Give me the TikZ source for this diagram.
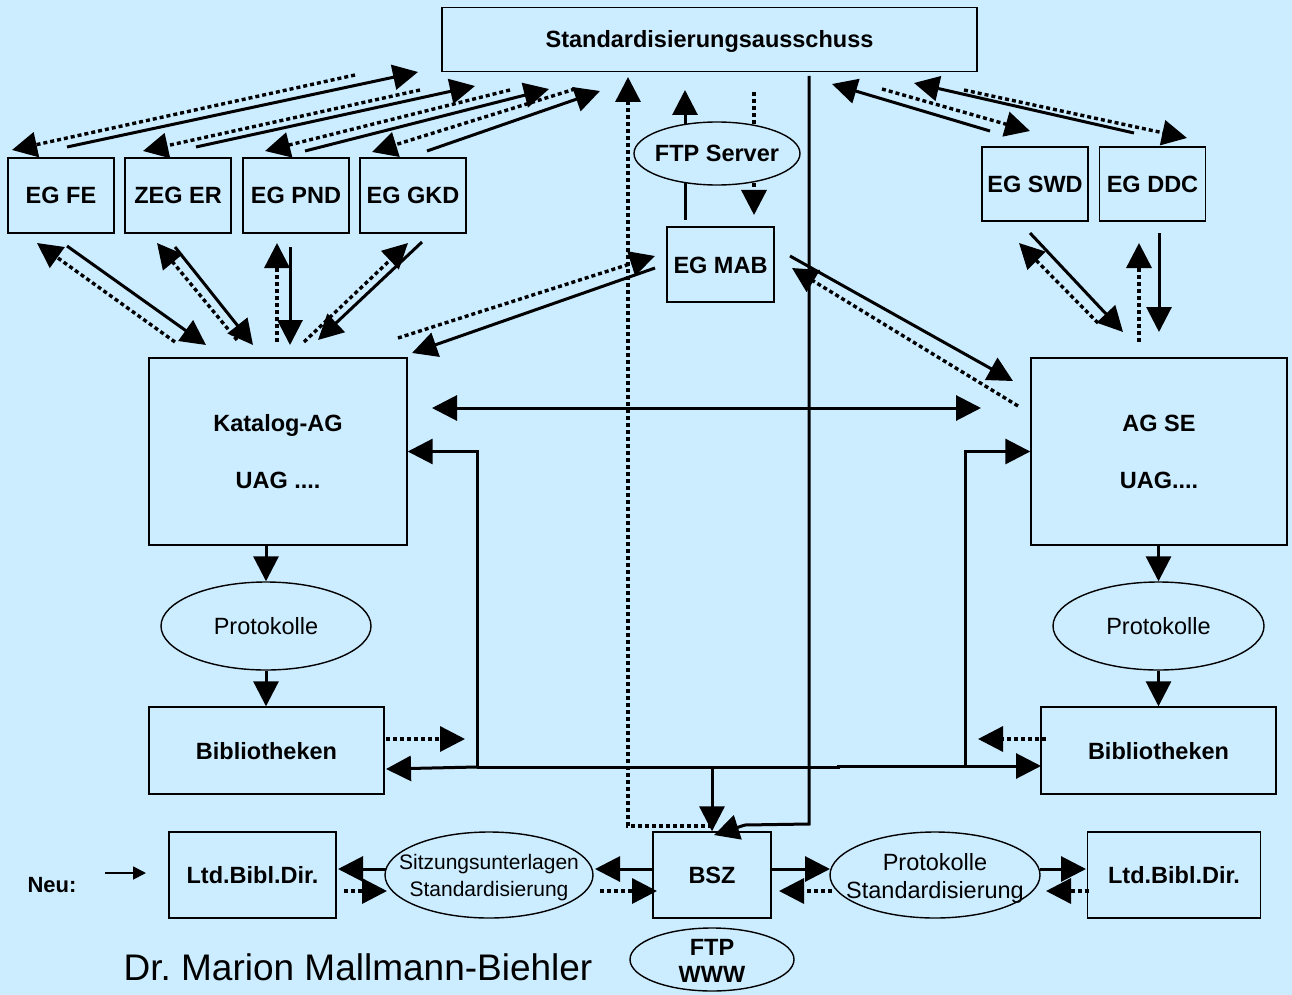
\documentclass[tikz,border=0pt]{standalone}
\usepackage{fontspec}
\setmainfont{Liberation Sans}
\usetikzlibrary{arrows.meta,shapes.geometric,backgrounds}
\definecolor{bgblue}{RGB}{204,236,255}
\begin{document}
\begin{tikzpicture}[x=1pt,y=-1pt,
 bx/.style={draw,line width=1.4pt,inner sep=0pt,align=center,font=\bfseries\fontsize{23.5}{27}\selectfont},
 one/.style={text height=17pt,text depth=0pt},
 ov/.style={draw,ellipse,line width=1.4pt,inner sep=0pt,fill=bgblue},
 lb/.style={font=\fontsize{23.5}{28}\selectfont,align=center,inner sep=0pt},
 lbb/.style={lb,font=\bfseries\fontsize{23.5}{27}\selectfont},
 hd/.style={-{Triangle[length=25pt,width=25pt]}},
 sol/.style={hd,line width=3pt},
 dot/.style={hd,line width=3.4pt,dash pattern=on 4pt off 3pt},
]
\useasboundingbox (0,0) rectangle (1292,995);
\begin{scope}[on background layer]
\fill[bgblue] (0,0) rectangle (1292,995);
\end{scope}

% nodes
\node[bx,one,minimum width=535pt,minimum height=64pt] (sa) at (709.5,39.5) {Standardisierungsausschuss};
\node[bx,one,minimum width=106pt,minimum height=75pt] (egfe) at (61,195.5) {EG FE};
\node[bx,one,minimum width=106pt,minimum height=75pt] (zeger) at (178,195.5) {ZEG ER};
\node[bx,one,minimum width=106pt,minimum height=75pt] (egpnd) at (296,195.5) {EG PND};
\node[bx,one,minimum width=106pt,minimum height=75pt] (eggkd) at (413,195.5) {EG GKD};
\node[bx,one,minimum width=106pt,minimum height=74pt] (egswd) at (1035,184) {EG SWD};
\node[bx,one,minimum width=106pt,minimum height=74pt] (egddc) at (1152.5,184) {EG DDC};
\node[bx,one,minimum width=107pt,minimum height=75pt] (egmab) at (720.5,264.5) {EG MAB};
\node[ov,minimum width=166pt,minimum height=63pt,label={[lbb,one]center:FTP Server}] (ftp) at (717,153.5) {};
\node[bx,minimum width=258pt,minimum height=187pt,font=\bfseries\fontsize{23.5}{57}\selectfont] (kat) at (278,451.5) {Katalog-AG\\UAG ....};
\node[bx,minimum width=256pt,minimum height=187pt,font=\bfseries\fontsize{23.5}{57}\selectfont] (agse) at (1159,451.5) {AG SE\\UAG....};
\node[ov,minimum width=210pt,minimum height=88pt,label={[lb]center:Protokolle}] (protL) at (266,626) {};
\node[ov,minimum width=211pt,minimum height=88pt,label={[lb]center:Protokolle}] (protR) at (1158.5,626) {};
\node[bx,one,minimum width=235pt,minimum height=87pt] (bibL) at (266.5,750.5) {Bibliotheken};
\node[bx,one,minimum width=235pt,minimum height=87pt] (bibR) at (1158.5,750.5) {Bibliotheken};
\node[bx,one,minimum width=167pt,minimum height=86pt] (ltdL) at (252.5,875) {Ltd.Bibl.Dir.};
\node[bx,one,minimum width=118pt,minimum height=86pt] (bsz) at (712,875) {BSZ};
\node[bx,one,minimum width=173pt,minimum height=86pt] (ltdR) at (1174,875) {Ltd.Bibl.Dir.};
\node[ov,minimum width=208pt,minimum height=86pt,label={[lb,font=\fontsize{21}{27}\selectfont,yshift=-3pt]center:Sitzungsunterlagen\\Standardisierung}] (sitz) at (489,875) {};
\node[ov,minimum width=210pt,minimum height=86pt,label={[lb,yshift=-3pt]center:Protokolle\\Standardisierung}] (protS) at (935,875) {};
\node[ov,minimum width=164pt,minimum height=63pt,label={[lbb,yshift=-1.5pt]center:FTP\\WWW}] (ftpw) at (712,959.5) {};
\node[font=\bfseries\fontsize{22}{26}\selectfont,inner sep=0pt] (neu) at (52,885) {Neu:};
\node[font=\fontsize{37}{40}\selectfont,inner sep=0pt] (author) at (358,967) {Dr.\ Marion Mallmann-Biehler};

% free ends of connectors
\foreach \n/\x/\y in {
 t1s/67/147, t1e/418/72, t1d/355/75, t1f/12/150,
 t2s/196/147, t2e/475/86, t2d/420/90, t2f/143/151,
 t3s/305/151, t3e/549/89, t3d/510/90, t3f/265/151,
 t4s/427/151, t4e/600/91, t4d/575/89, t4f/372/152,
 l1s/67/246, l1e/206/345, l1d/175/342, l1f/37/243,
 l2s/175/247, l2e/253/345, l2d/237/340, l2f/157/243,
 l3s/290/247, l3e/290/345, l3d/277/342, l3f/277/243,
 l4s/422/242, l4e/318/340, l4d/304/342, l4f/408/243,
 m1s/655/268, m1e/412/353, m1d/398/338, m1f/655/256,
 r1s/990/131, r1e/832/84, r1d/882/89, r1f/1030/131,
 r2s/1134/133, r2e/914/83, r2d/964/90, r2f/1187/138,
 r3s/1030/233, r3e/1123/332, r3d/1098/323, r3f/1019/243,
 r4s/1159/233, r4e/1159/332, r4d/1139/342, r4f/1139/243,
 m2s/790/256, m2e/1013/381, m2d/1018/406, m2f/792/268,
 b1s/386/869, b1e/338/869, b1d/344/891, b1f/387/891,
 b2s/653/869, b2e/595/869, b2d/600/891, b2f/657/891,
 b3s/771/869, b3e/830/869, b3d/832/891, b3f/779/891,
 b4s/1040/869, b4e/1086/869, b4d/1089/891, b4f/1046/891,
 f1s/685/220, f1e/685/90, f2s/754/92, f2e/754/215,
 c0/712/826, c1/628/826, c1e/628/77,
 c2s/809/76, c2m/809/824, c2n/745/825, c2e/714/835,
 bl/477/767, blu/477/451.5, bibLt/386/769,
 bm1/838/767, bm2/838/766, br/965/766, bru/965/451.5, bibRt/1041/766,
 dbl1/432/408, dbl2/981/408,
 bd1/386/739, bd1e/465/739, bd2/1046/739, bd2e/978/739,
 n1/105/873, n2/146/873}
 {\coordinate (\n) at (\x,\y);}

% paired connectors
\foreach \a in {t1,t2,t3,t4,l1,l2,l3,l4,m1,r1,r2,r3,r4,m2,b1,b2,b3,b4}{
 \draw[sol] (\a s) -- (\a e);
 \draw[dot] (\a d) -- (\a f);
}

% lines behind the FTP server
\begin{scope}[on background layer]
\draw[sol] (f1s) -- (f1e);
\draw[dot] (f2s) -- (f2e);
\end{scope}

% central connectors
\draw[dot] (c0) -- (c1) -- (c1e);
\draw[sol] (c2s) -- (c2m) -- (c2n) -- (c2e);
\draw[sol] (bl) -- (bibLt);
\draw[sol] (bl) -- (blu) -- (kat.east);
\draw[line width=3pt] (bl) -- (bm1) -- (bm2) -- (br);
\draw[sol] (br) -- (bibRt);
\draw[sol] (br) -- (bru) -- (agse.west);
\draw[sol] (bsz.north |- bl) -- (bsz.north);
\draw[line width=3pt,{Triangle[length=25pt,width=25pt]}-{Triangle[length=25pt,width=25pt]}] (dbl1) -- (dbl2);
\draw[dot] (bd1) -- (bd1e);
\draw[dot] (bd2) -- (bd2e);

% vertical chains
\draw[sol] (kat.south -| protL) -- (protL.north);
\draw[sol] (protL.south) -- (protL.south |- bibL.north);
\draw[sol] (agse.south -| protR) -- (protR.north);
\draw[sol] (protR.south) -- (protR.south |- bibR.north);

% legend arrow
\draw[line width=1.8pt,-{Triangle[length=13pt,width=13pt]}] (n1) -- (n2);
\end{tikzpicture}
\end{document}
